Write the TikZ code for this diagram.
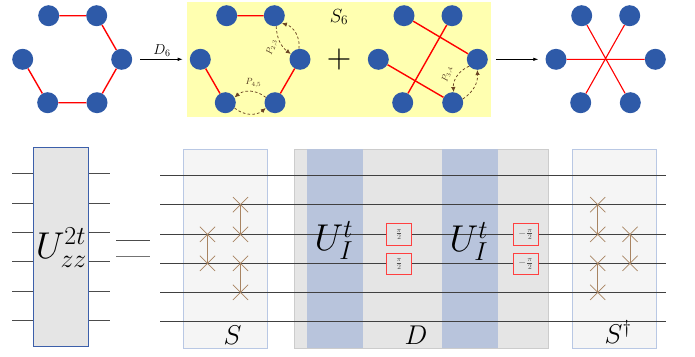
\documentclass[tikz,border=0pt]{standalone}
\usetikzlibrary{arrows.meta,shapes.misc}
\DeclareMathSizes{24.88}{24.88}{17.28}{12}
\definecolor{qubitblue}{RGB}{46,90,168}
\definecolor{panelyellow}{RGB}{255,255,176}
\definecolor{permbrown}{RGB}{107,68,35}
\definecolor{swapbrown}{RGB}{168,132,98}
\definecolor{barblue}{RGB}{184,196,220}
\definecolor{edgeblue}{RGB}{60,95,170}
\definecolor{lightedge}{RGB}{185,200,228}
\tikzset{
  qubit/.style={circle,fill=qubitblue,minimum size=21pt,inner sep=0pt},
  bond/.style={red,line width=1.4pt},
  perm/.style={permbrown,dash pattern=on 2.6pt off 2.2pt,line width=0.75pt,-{Latex[length=5pt,width=4.5pt]}},
  permlabel/.style={scale=0.9,text=permbrown!70!black,inner sep=0pt},
  wire/.style={black!75,line width=0.75pt},
  stub/.style={black!70,line width=0.7pt},
  swapx/.style={cross out,draw=swapbrown,minimum size=14.5pt,inner sep=0pt,line width=0.7pt},
  swapline/.style={swapbrown,line width=0.8pt},
  phasebox/.style={draw=red!75,fill=black!10,line width=0.8pt,minimum width=25pt,minimum height=21.5pt,inner sep=0pt},
  phasetext/.style={text=black!70,inner sep=0pt},
  flow/.style={-{Latex[length=5pt,width=3.5pt]},line width=0.7pt},
  biglabel/.style={font=\Huge,scale=1.5,inner sep=0pt},
  midlabel/.style={font=\Huge,scale=1.09,inner sep=0pt}
}
\begin{document}
\begin{tikzpicture}[x=1pt,y=-1pt]
\useasboundingbox (0,0) rectangle (695,356);
% panel behind the two middle graphs
\fill[panelyellow] (187,2) rectangle (490.7,117);
% the four six-qubit graphs
\foreach \g/\tlx/\trx/\rx/\brx/\blx/\lx in {a/48.7/96.7/121.7/97/47.7/22.7,b/226.7/274.3/300/275/225.3/200.3,c/404/452/477.3/452.7/402.7/378.3,d/581.7/629.7/655.3/630.3/580.7/556}{
  \node[qubit] (\g1) at (\tlx,15.7) {};
  \node[qubit] (\g2) at (\trx,15.7) {};
  \node[qubit] (\g3) at (\rx,59.3) {};
  \node[qubit] (\g4) at (\brx,102.7) {};
  \node[qubit] (\g5) at (\blx,102.7) {};
  \node[qubit] (\g6) at (\lx,59.3) {};
}
\draw[bond] (a1) -- (a2) (a2) -- (a3) (a3) -- (a4) (a4) -- (a5) (a5) -- (a6);
\draw[bond] (b1) -- (b2) (b3) -- (b4) (b5) -- (b6);
\draw[bond] (c1) -- (c3) (c2) -- (c5) (c6) -- (c4);
\draw[bond,line width=1.1pt] (d1) -- (d4) (d2) -- (d5) (d6) -- (d3);
% permutations
\draw[perm] (b3.95) to[bend right=40] (b2.-45);
\draw[perm] (b2.-80) to[bend right=25] (b3.150);
\draw[perm] (b4.150) to[bend right=40] (b5.30);
\draw[perm] (b5.-30) to[bend right=40] (b4.-150);
\draw[perm] (c3.-140) to[bend right=35] (c4.85);
\draw[perm] (c4.20) to[bend right=30] (c3.-90);
\node[permlabel,rotate=75] (p23) at (272,47.5) {$P_{2,3}$};
\node[permlabel] (p45) at (253.5,83) {$P_{4,5}$};
\node[permlabel,rotate=75] (p34) at (447.5,74.5) {$P_{3,4}$};
% arrows and labels of the top row
\draw[flow] (a3) ++(18.5,0) coordinate (f1) (f1) -- ++(42.5,0) coordinate (f2);
\draw[flow] (c3) ++(18.5,0) coordinate (f3) (f3) -- ++(42.5,0) coordinate (f4);
\node[font=\Large,inner sep=0pt] (dsix) at (162,50.5) {$D_6$};
\node[font=\LARGE,scale=1.1,inner sep=0pt] (ssix) at (339,17) {$S_6$};
\node[scale=3.2,inner sep=0pt] (plus) at (339,59) {$+$};
% U box with its stubs
\node[draw=edgeblue,fill=black!10,line width=0.7pt,minimum width=55.4pt,minimum height=199pt,inner sep=0pt] (ubox) at (61,247) {};
\foreach \i/\y in {1/173.7,2/203,3/232.3,4/261.7,5/291,6/320.3}{
  \coordinate (ul\i) at (12,\y);
  \coordinate (ur\i) at (110,\y);
  \draw[stub] (ul\i) -- (ul\i -| ubox.west);
  \draw[stub] (ur\i -| ubox.east) -- (ur\i);
}
\node[biglabel] (ulabel) at (61.5,247.5) {$U_{zz}^{2t}$};
% equals sign
\coordinate (e1) at (116,240.3);
\coordinate (e2) at (150,240.3);
\coordinate (e3) at (116,256);
\coordinate (e4) at (150,256);
\draw[stub] (e1) -- (e2);
\draw[stub,black!55,line width=0.9pt] (e3) -- (e4);
% S, D and S dagger blocks
\draw[draw=lightedge,fill=black!4,line width=0.7pt] (183.3,149) rectangle (267.7,348.5);
\draw[draw=black!20,fill=black!10,line width=0.7pt] (294,149) rectangle (548,348.5);
\fill[barblue] (306.7,149.3) rectangle (362.7,348.2);
\fill[barblue] (441.7,149.3) rectangle (497.7,348.2);
\draw[draw=lightedge,fill=black!4,line width=0.7pt] (572.3,149) rectangle (656.3,348.5);
% wires
\foreach \i/\y in {1/175.3,2/204.7,3/234.3,4/263.3,5/292.3,6/321.7}{
  \coordinate (wl\i) at (160,\y);
  \coordinate (wr\i) at (666,\y);
  \draw[wire] (wl\i) -- (wr\i);
}
% swaps
\foreach \n/\x/\y in {sa/207.5/234.3,sb/207.5/263.3,sc/240.5/204.7,sd/240.5/234.3,se/240.5/263.3,sf/240.5/292.3,sg/597.7/204.7,sh/597.7/234.3,si/597.7/263.3,sj/597.7/292.3,sk/630/234.3,sl/630/263.3}{
  \node[swapx] (\n) at (\x,\y) {};
}
\draw[swapline] (sa.center) -- (sb.center);
\draw[swapline] (sc.center) -- (sd.center);
\draw[swapline] (se.center) -- (sf.center);
\draw[swapline] (sg.center) -- (sh.center);
\draw[swapline] (si.center) -- (sj.center);
\draw[swapline] (sk.center) -- (sl.center);
% phase boxes
\node[phasebox] (pa) at (399,234.3) {};
\node[phasebox] (pb) at (399,264) {};
\node[phasebox] (pc) at (526,234.3) {};
\node[phasebox] (pd) at (526,264) {};
\node[phasetext] (ta) at (pa) {$\frac{\pi}{2}$};
\node[phasetext] (tb) at (pb) {$\frac{\pi}{2}$};
\node[phasetext] (tc) at (pc) {$-\frac{\pi}{2}$};
\node[phasetext] (td) at (pd) {$-\frac{\pi}{2}$};
% block labels
\node[biglabel] (uia) at (334,240.5) {$U_I^t$};
\node[biglabel] (uib) at (469,241.5) {$U_I^t$};
\node[midlabel] (slabel) at (232.5,335) {$S$};
\node[midlabel] (dlabel) at (416,335) {$D$};
\node[midlabel] (sdag) at (618,332) {$S^\dagger$};
\end{tikzpicture}
\end{document}
